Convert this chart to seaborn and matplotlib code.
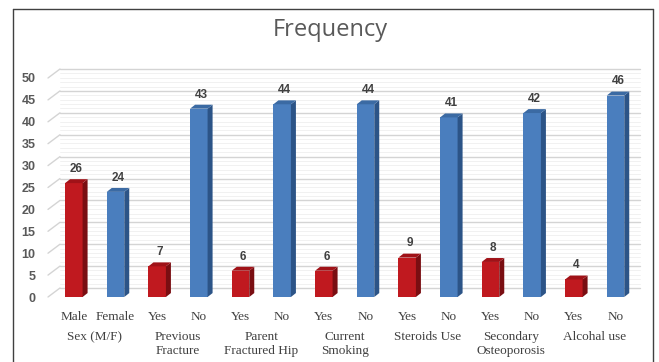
import matplotlib
matplotlib.use("Agg")
import matplotlib.pyplot as plt
import matplotlib.transforms as mtransforms
from matplotlib.patches import Polygon
from matplotlib.lines import Line2D
import seaborn as sns
import pandas as pd

# Survey answers, two bars per risk factor
answers = ["Male", "Female", "Yes", "No", "Yes", "No", "Yes", "No",
           "Yes", "No", "Yes", "No", "Yes", "No"]
factors = ["Sex (M/F)", "Previous\nFracture", "Parent\nFractured Hip",
           "Current\nSmoking", "Steroids Use", "Secondary\nOsteoporosis",
           "Alcohal use"]
counts = [26, 24, 7, 43, 6, 44, 6, 44, 9, 41, 8, 42, 4, 46]
kind = ["first", "second"] * len(factors)
yticks = [0, 5, 10, 15, 20, 25, 30, 35, 40, 45, 50]

front = {"first": "#C0191F", "second": "#4A7EBE"}
side = {"first": "#7A0E12", "second": "#2C5487"}
top = {"first": "#A01218", "second": "#3B6AA3"}

df = pd.DataFrame({"slot": [str(i) for i in range(len(counts))],
                   "count": counts, "kind": kind})

sns.set_theme(style="white")
plt.rcParams["font.family"] = ["DejaVu Sans"]

W, H = 659, 362
fig = plt.figure(figsize=(W / 100, H / 100), dpi=100)
fig.patch.set_facecolor("white")
ax = fig.add_axes([48 / W, (H - 297) / H, (628 - 48) / W, (297 - 78) / H])

sns.barplot(data=df, x="slot", y="count", hue="kind", palette=front,
            dodge=False, width=0.42, legend=False, ax=ax, zorder=3,
            linewidth=0, saturation=1)

ax.set_xlim(-0.62, 13.3)
ax.set_ylim(0, 50)

# back-wall gridlines, shifted up and right for the 3D look
back = mtransforms.offset_copy(ax.transData, fig=fig, x=12, y=9, units="dots")
x0, x1 = ax.get_xlim()
for v in range(0, 51):
    major = v % 5 == 0
    col = "#d4d4d4" if major else "#efefef"
    lw = 1.0 if major else 0.6
    ax.add_line(Line2D([x0, x1], [v, v], transform=back, color=col, lw=lw,
                       zorder=1, clip_on=False))
for v in yticks:
    p0 = ax.transData.transform((x0, v))
    p1 = back.transform((x0, v))
    ax.add_line(Line2D([p0[0], p1[0]], [p0[1], p1[1]], transform=None,
                       color="#d4d4d4", lw=1.0, zorder=1, clip_on=False))

# side and top faces of each bar, in left-to-right order
dx, dy = 0.12, 0.9
bars = sorted(ax.patches, key=lambda p: p.get_x())
for patch, k in zip(bars, kind):
    bx = patch.get_x()
    bw = patch.get_width()
    h = patch.get_height()
    xr = bx + bw
    ax.add_patch(Polygon([(xr, 0), (xr, h), (xr + dx, h + dy), (xr + dx, dy)],
                         closed=True, facecolor=side[k], edgecolor="none",
                         zorder=3, clip_on=False))
    ax.add_patch(Polygon([(bx, h), (xr, h), (xr + dx, h + dy), (bx + dx, h + dy)],
                         closed=True, facecolor=top[k], edgecolor="none",
                         zorder=3, clip_on=False))
    ax.annotate(f"{h:g}", (bx + bw / 2 + dx / 2, h + dy), xytext=(0, 3),
                textcoords="offset points", ha="center", va="bottom",
                fontsize=8.5, color="#404040", fontweight="bold",
                family="Liberation Sans")

for s in ax.spines.values():
    s.set_visible(False)
ax.set_xlabel("")
ax.set_ylabel("")
ax.set_yticks(yticks)
ax.set_yticklabels([str(v) for v in yticks], fontsize=9, color="#595959",
                   fontweight="bold", family="Liberation Sans")
ax.tick_params(axis="y", length=0, pad=9)
ax.set_xticks(range(len(answers)))
ax.set_xticklabels(answers, fontsize=9.5, color="#404040",
                   family="Liberation Serif")
ax.tick_params(axis="x", length=0, pad=10)

group_tf = ax.get_xaxis_transform() + mtransforms.ScaledTranslation(
    0, -34 / 100, fig.dpi_scale_trans)
for i, name in enumerate(factors):
    ax.text(2 * i + 0.5, 0, name, transform=group_tf,
            ha="center", va="top", fontsize=9.5, color="#404040",
            family="Liberation Serif", linespacing=1.2)

fig.text(330 / W, (H - 30) / H, "Frequency", ha="center", va="center",
         fontsize=17, color="#595959", family="Open Sans")

# chart frame (bottom edge lies outside the image)
frame = dict(color="#404040", lw=1.0, transform=None)
fig.add_artist(Line2D([13, 13], [-5, H - 9], **frame))
fig.add_artist(Line2D([13, 653], [H - 9, H - 9], **frame))
fig.add_artist(Line2D([653, 653], [-5, H - 9], **frame))

fig.savefig("out.png", dpi=100)
